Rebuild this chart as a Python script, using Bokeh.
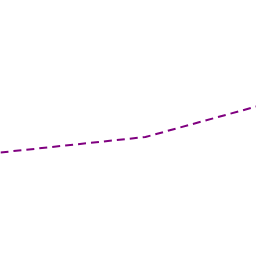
from bokeh.plotting import figure
from bokeh.models import Range1d
from bokeh.embed import file_html
from bokeh.resources import INLINE

xs = [0, 5.66, 10]
ys = [104, 119.5, 150]

p = figure(width=256, height=256, output_backend="svg", toolbar_location=None,
           x_range=Range1d(0, 10), y_range=Range1d(0, 256), min_border=0)
p.axis.visible = False
p.grid.visible = False
p.outline_line_color = None
p.line(xs, ys, line_color="#800080", line_width=2, line_dash="8 5")

open("out.html", "w").write(file_html(p, INLINE))
